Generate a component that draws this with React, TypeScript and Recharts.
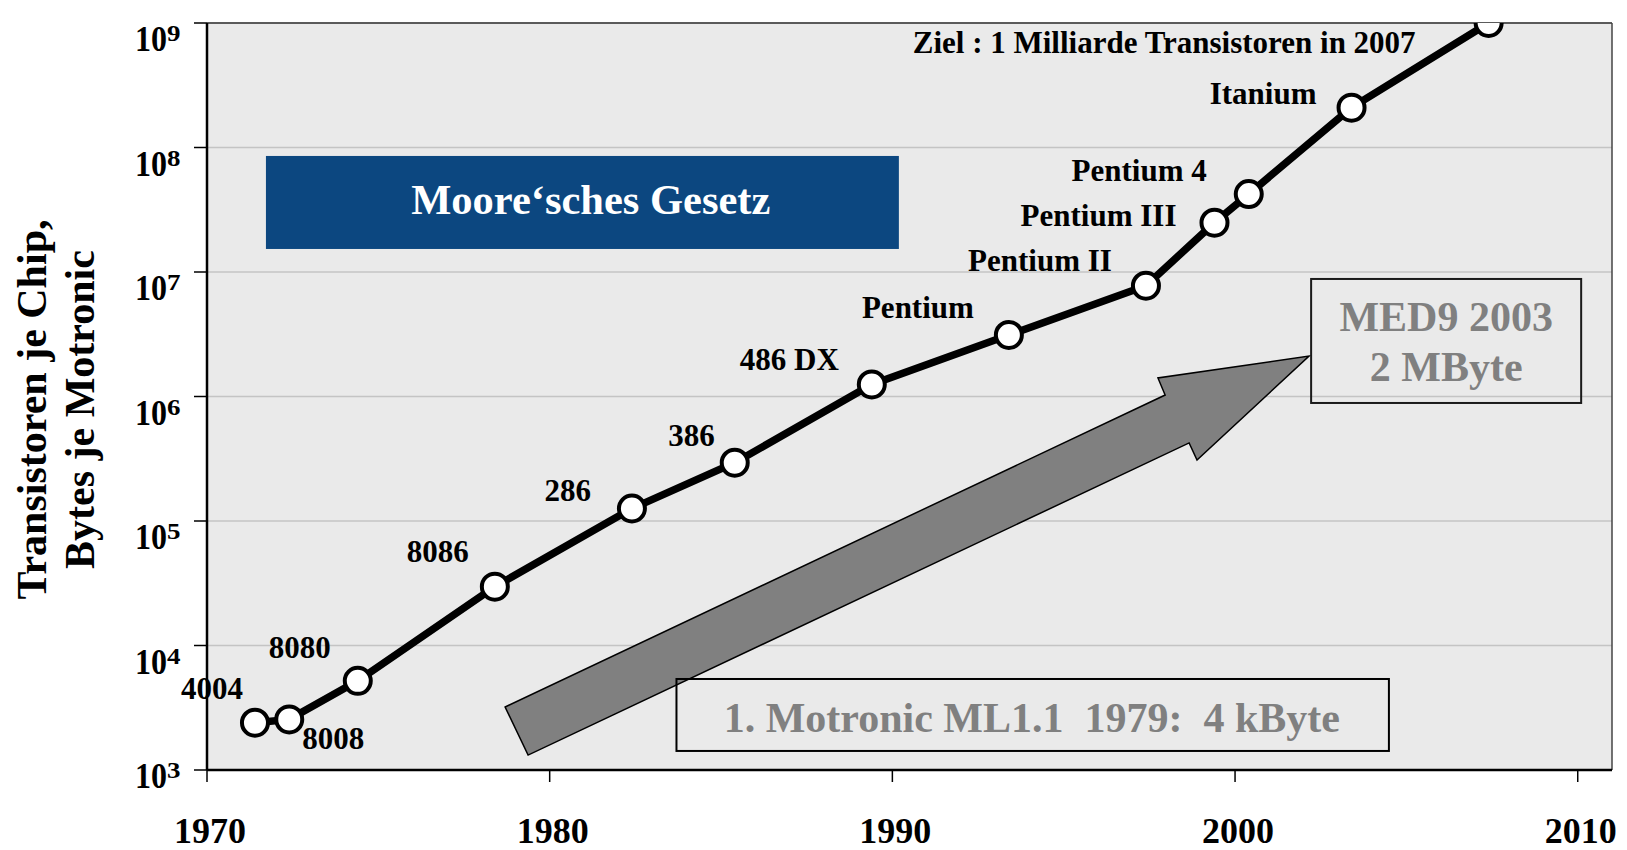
import React from 'react';
import { LineChart, Line, XAxis, YAxis, CartesianGrid, ReferenceArea, LabelList } from 'recharts';

// ---------- data ----------
const years = [1971.4, 1972.4, 1974.4, 1978.4, 1982.4, 1985.4, 1989.4, 1993.4, 1997.4, 1999.4, 2000.4, 2003.4, 2007.4];
const transistors = [2400, 2550, 5200, 29700, 126000, 294000, 1250000, 3120000, 7760000, 24900000, 42300000, 209000000, 1000000000];
const chipLabels = ['4004', '8008', '8080', '8086', '286', '386', '486 DX', 'Pentium', 'Pentium II', 'Pentium III', 'Pentium 4', 'Itanium', 'Ziel : 1 Milliarde Transistoren in 2007'];
const xTicks = [1970, 1980, 1990, 2000, 2010];
const yTicks = [1e3, 1e4, 1e5, 1e6, 1e7, 1e8, 1e9];
const xDomain = [1970, 2011];
const yDomain = [1e3, 1e9];

const yAxisTitle = ['Transistoren je Chip,', 'Bytes je Motronic'];
const mooreTitle = 'Moore\u2018sches Gesetz';
const med9Lines = ['MED9 2003', '2 MByte'];
const motronicText = '1. Motronic ML1.1  1979:  4 kByte';

// annotation geometry in data coordinates: [year, log10(value)]
const mooreBox = { x1: 1971.72, x2: 1990.19, top: 7.932, bottom: 7.185, textX: 1981.2, textY: 7.466 };
const med9Box = { x1: 2002.22, x2: 2010.1, top: 6.944, bottom: 5.948, textX: 2006.16, line1: 6.526, line2: 6.125 };
const motronicBox = { x1: 1983.7, x2: 2004.49, top: 3.731, bottom: 3.153, textX: 1994.07, textY: 3.305 };
const arrowPoly: [number, number][] = [
  [1978.7, 3.506],
  [1997.96, 6.012],
  [1997.75, 6.149],
  [2002.16, 6.325],
  [1998.89, 5.49],
  [1998.66, 5.627],
  [1979.37, 3.12],
];

// label placement (pixel offsets from point), kept apart from data
const labelPlacement: { dx: number; dy: number; anchor: 'start' | 'end' }[] = [
  { dx: -12, dy: -24, anchor: 'end' },
  { dx: 13, dy: 30, anchor: 'start' },
  { dx: -27, dy: -23, anchor: 'end' },
  { dx: -26, dy: -25, anchor: 'end' },
  { dx: -41, dy: -8, anchor: 'end' },
  { dx: -20, dy: -17, anchor: 'end' },
  { dx: -33, dy: -14, anchor: 'end' },
  { dx: -35, dy: -17, anchor: 'end' },
  { dx: -34, dy: -15, anchor: 'end' },
  { dx: -38, dy: 3, anchor: 'end' },
  { dx: -42, dy: -13, anchor: 'end' },
  { dx: -35, dy: -4, anchor: 'end' },
  { dx: -73, dy: 30, anchor: 'end' },
];

const data = years.map((year, i) => ({ year, value: transistors[i], label: chipLabels[i] }));

const FONT = "'Liberation Serif', 'Times New Roman', Times, serif";

const YTick = (props: any) => {
  const { x, y, payload } = props;
  const exp = Math.round(Math.log10(payload.value));
  const base = exp === 3 ? 18 : 28;
  return (
    <g>
      <g transform={`translate(${x - 57}, ${y + base}) scale(1, 1.15)`}>
        <text x={0} y={0} fontFamily={FONT} fontWeight="bold" fontSize={32} fill="#000">
          10
        </text>
      </g>
      <g transform={`translate(${x - 25}, ${y + base - 10}) scale(1, 0.85)`}>
        <text x={0} y={0} fontFamily={FONT} fontWeight="bold" fontSize={27} fill="#000">
          {exp}
        </text>
      </g>
    </g>
  );
};

const XTick = (props: any) => {
  const { x, y, payload } = props;
  return (
    <text x={x + 3} y={y + 59} textAnchor="middle" fontFamily={FONT} fontWeight="bold" fontSize={36} fill="#000">
      {payload.value}
    </text>
  );
};

const PointLabel = (props: any) => {
  const { x, y, value } = props;
  const i = chipLabels.indexOf(value);
  const p = labelPlacement[i] || { dx: 0, dy: -20, anchor: 'middle' };
  return (
    <text
      x={x + p.dx}
      y={y + p.dy}
      textAnchor={p.anchor}
      fontFamily={FONT}
      fontWeight="bold"
      fontSize={31}
      fill="#000"
    >
      {value}
    </text>
  );
};

const Overlay = (props: any) => {
  const { x, y, width, height } = props;
  const lmin = Math.log10(yDomain[0]);
  const lmax = Math.log10(yDomain[1]);
  const fx = (yr: number) => x + ((yr - xDomain[0]) / (xDomain[1] - xDomain[0])) * width;
  const fy = (lg: number) => y + ((lmax - lg) / (lmax - lmin)) * height;
  const pts = arrowPoly.map(([a, b]) => `${fx(a)},${fy(b)}`).join(' ');
  const titleCy = y + height / 2 + 13;
  return (
    <g>
      {/* plot frame top/right */}
      <line x1={x} y1={y} x2={x + width} y2={y} stroke="#333" strokeWidth={1.5} />
      <line x1={x + width} y1={y} x2={x + width} y2={y + height} stroke="#444" strokeWidth={1.5} />

      {/* y axis title */}
      <g transform={`translate(${x - 161}, ${titleCy}) rotate(-90)`}>
        <text x={0} y={0} textAnchor="middle" fontFamily={FONT} fontWeight="bold" fontSize={42} fill="#000">
          {yAxisTitle[0]}
        </text>
      </g>
      <g transform={`translate(${x - 113}, ${titleCy}) rotate(-90)`}>
        <text x={0} y={0} textAnchor="middle" fontFamily={FONT} fontWeight="bold" fontSize={42} fill="#000">
          {yAxisTitle[1]}
        </text>
      </g>

      {/* Moore box */}
      <rect
        x={fx(mooreBox.x1)}
        y={fy(mooreBox.top)}
        width={fx(mooreBox.x2) - fx(mooreBox.x1)}
        height={fy(mooreBox.bottom) - fy(mooreBox.top)}
        fill="#0c4780"
      />
      <text
        x={fx(mooreBox.textX)}
        y={fy(mooreBox.textY)}
        textAnchor="middle"
        fontFamily={FONT}
        fontWeight="bold"
        fontSize={42.5}
        fill="#fff"
      >
        {mooreTitle}
      </text>

      {/* arrow */}
      <polygon points={pts} fill="#808080" stroke="#000" strokeWidth={1.5} strokeLinejoin="miter" />

      {/* MED9 box */}
      <rect
        x={fx(med9Box.x1)}
        y={fy(med9Box.top)}
        width={fx(med9Box.x2) - fx(med9Box.x1)}
        height={fy(med9Box.bottom) - fy(med9Box.top)}
        fill="none"
        stroke="#1a1a1a"
        strokeWidth={2}
      />
      <text x={fx(med9Box.textX)} y={fy(med9Box.line1)} textAnchor="middle" fontFamily={FONT} fontWeight="bold" fontSize={42} fill="#808080">
        {med9Lines[0]}
      </text>
      <text x={fx(med9Box.textX)} y={fy(med9Box.line2)} textAnchor="middle" fontFamily={FONT} fontWeight="bold" fontSize={42} fill="#808080">
        {med9Lines[1]}
      </text>

      {/* Motronic box */}
      <rect
        x={fx(motronicBox.x1)}
        y={fy(motronicBox.top)}
        width={fx(motronicBox.x2) - fx(motronicBox.x1)}
        height={fy(motronicBox.bottom) - fy(motronicBox.top)}
        fill="none"
        stroke="#000"
        strokeWidth={2}
      />
      <text
        x={fx(motronicBox.textX)}
        y={fy(motronicBox.textY)}
        textAnchor="middle"
        fontFamily={FONT}
        fontWeight="bold"
        fontSize={42}
        fill="#808080"
        style={{ whiteSpace: 'pre' }}
        xmlSpace="preserve"
      >
        {motronicText}
      </text>
    </g>
  );
};

export default function App() {
  return (
    <div style={{ position: 'absolute', left: 0, top: 0, width: 1627, height: 850, background: '#fff' }}>
      <LineChart width={1627} height={850} data={data} margin={{ top: 23, right: 15, bottom: 0, left: 0 }}>
        <CartesianGrid horizontal vertical={false} stroke="#c4c4c4" strokeWidth={1.5} fill="#eaeaea" fillOpacity={1} />
        <XAxis
          type="number"
          dataKey="year"
          domain={xDomain}
          ticks={xTicks}
          allowDataOverflow
          height={80}
          tickSize={12}
          tickLine={{ stroke: '#000', strokeWidth: 1.5 }}
          axisLine={{ stroke: '#000', strokeWidth: 2.5 }}
          tick={<XTick />}
          interval={0}
        />
        <YAxis
          type="number"
          scale="log"
          domain={yDomain}
          ticks={yTicks}
          allowDataOverflow
          width={207}
          tickSize={13}
          tickLine={{ stroke: '#000', strokeWidth: 1.5 }}
          axisLine={{ stroke: '#000', strokeWidth: 2.5 }}
          tick={<YTick />}
          interval={0}
        />
        <ReferenceArea
          x1={xDomain[0]}
          x2={xDomain[1]}
          y1={yDomain[0]}
          y2={yDomain[1]}
          ifOverflow="visible"
          shape={(p: any) => <Overlay {...p} />}
        />
        <Line
          type="linear"
          dataKey="value"
          stroke="#000"
          strokeWidth={7.5}
          dot={{ r: 13, fill: '#fff', stroke: '#000', strokeWidth: 4 }}
          activeDot={false}
          isAnimationActive={false}
        >
          <LabelList dataKey="label" content={<PointLabel />} />
        </Line>
      </LineChart>
    </div>
  );
}
